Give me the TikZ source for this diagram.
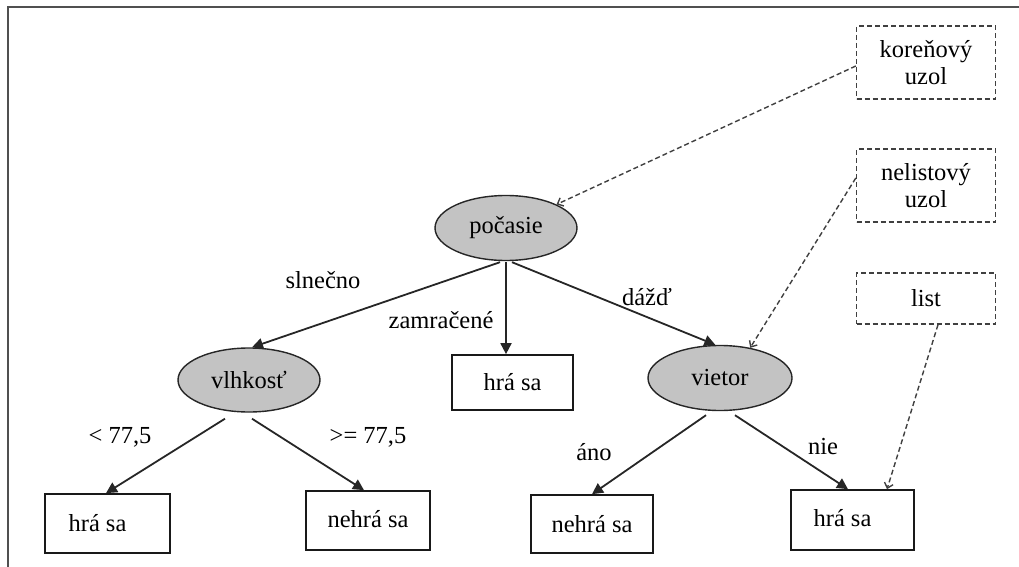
\documentclass[tikz,border=0pt]{standalone}
\usepackage{fontspec}
\setmainfont{Liberation Serif}
\usetikzlibrary{shapes.geometric,arrows.meta}
\definecolor{linegray}{HTML}{262626}
\definecolor{nodefill}{HTML}{C3C3C3}
\definecolor{framegray}{HTML}{505050}
\tikzset{
  txt/.style={font=\fontsize{24.5}{27}\selectfont, text=black},
  attr/.style={txt, ellipse, draw=linegray, line width=1.4pt, fill=nodefill,
    inner sep=0pt, minimum width=142pt, minimum height=65pt},
  leaf/.style={txt, rectangle, draw=black!90, line width=1.7pt, fill=white,
    inner sep=0pt},
  note/.style={txt, rectangle, draw=black!75, line width=1.4pt, dash pattern=on 5pt off 3pt,
    align=center, inner sep=0pt, minimum width=139pt},
  edge/.style={draw=linegray, line width=1.8pt, -{Triangle[length=11pt,width=11pt]}},
  pointer/.style={draw=black!75, line width=1.4pt, dash pattern=on 5pt off 3pt,
    -{Straight Barb[length=5pt,width=9pt]}},
  lbl/.style={txt, inner sep=0pt}
}
\begin{document}
\begin{tikzpicture}[x=1pt,y=-1pt]
\useasboundingbox (0,0) rectangle (1019,567);

% outer frame
\draw[framegray, line width=2pt] (1019,7) -- (8,7) -- (8,567);

% decision nodes
\node[attr] (poc) at (506,228) {počasie};
\node[attr, minimum height=64pt] (vlh) at (249,380) {vlhkosť};
\node[attr, minimum width=144pt] (vie) at (720,378) {vietor};

% leaves
\node[leaf, minimum width=121pt, minimum height=55pt] (hra2) at (512.5,382.5) {hrá sa};
\node[leaf, minimum width=125pt, minimum height=59pt] (hra1) at (107.5,523.5) {\hspace*{-20pt}\raisebox{-4pt}{hrá sa}};
\node[leaf, minimum width=124pt, minimum height=59pt] (neh1) at (368,520.5) {\raisebox{3pt}{nehrá sa}};
\node[leaf, minimum width=122pt, minimum height=58pt] (neh2) at (592,524) {nehrá sa};
\node[leaf, minimum width=123pt, minimum height=60pt] (hra3) at (852.5,520) {\hspace*{-20pt}\raisebox{4pt}{hrá sa}};

% explanatory notes
\node[note, minimum height=73pt] (kor) at (926,62.5) {koreňový\\uzol};
\node[note, minimum height=73pt] (nel) at (926,185.5) {nelistový\\uzol};
\node[note, minimum height=51pt] (lst) at (926,298.5) {list};

% branch labels
\node[lbl] (l1) at (323,280) {slnečno};
\node[lbl] (l2) at (441,320) {zamračené};
\node[lbl] (l3) at (647,297) {dážď};
\node[lbl] (l4) at (120,437) {< 77,5};
\node[lbl] (l5) at (368,437) {>= 77,5};
\node[lbl] (l6) at (594,452) {áno};
\node[lbl] (l7) at (823,447) {nie};

% tree edges
\draw[edge] ([xshift=-6pt,yshift=-1pt]poc.south) -- ([xshift=3pt]vlh.north);
\draw[edge] ([yshift=-1pt]poc.south) -- (hra2.north -| poc.south);
\draw[edge] ([xshift=6pt,yshift=-1pt]poc.south) -- (vie.98);
\draw[edge] ([xshift=-24pt,yshift=-6pt]vlh.south) -- ([xshift=-1.5pt]hra1.north);
\draw[edge] ([xshift=3pt,yshift=-6pt]vlh.south) -- ([xshift=-4pt]neh1.north);
\draw[edge] ([xshift=-14pt,yshift=-4pt]vie.south) -- ([xshift=0pt]neh2.north);
\draw[edge] ([xshift=15pt,yshift=-4pt]vie.south) -- ([xshift=-4.5pt]hra3.north);

% note pointers
\draw[pointer] ([yshift=-3.5pt]kor.west) -- (poc.25);
\draw[pointer] ([yshift=7.5pt]nel.west) -- (vie.45);
\draw[pointer] ([xshift=12pt]lst.south) -- ([xshift=34.5pt]hra3.north);
\end{tikzpicture}
\end{document}
